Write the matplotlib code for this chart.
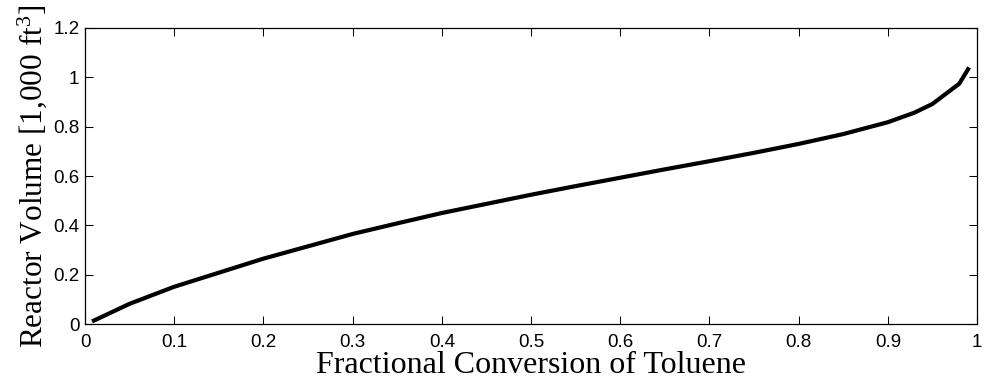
import matplotlib
matplotlib.use("Agg")
import matplotlib.pyplot as plt

# conversion vs. reactor volume (1,000 ft^3)
conversion = [0.01, 0.05, 0.1, 0.15, 0.2, 0.25, 0.3, 0.35, 0.4, 0.45, 0.5,
              0.55, 0.6, 0.65, 0.7, 0.75, 0.8, 0.85, 0.9, 0.93, 0.95, 0.98, 0.99]
volume = [0.014, 0.082, 0.151, 0.208, 0.265, 0.315, 0.365, 0.408, 0.45, 0.487, 0.524,
          0.559, 0.593, 0.627, 0.66, 0.694, 0.73, 0.77, 0.818, 0.857, 0.892, 0.974, 1.033]

xticks = [0, 0.1, 0.2, 0.3, 0.4, 0.5, 0.6, 0.7, 0.8, 0.9, 1]
yticks = [0, 0.2, 0.4, 0.6, 0.8, 1, 1.2]
xtick_labels = ["0", "0.1", "0.2", "0.3", "0.4", "0.5", "0.6", "0.7", "0.8", "0.9", "1"]
ytick_labels = ["0", "0.2", "0.4", "0.6", "0.8", "1", "1.2"]

plt.rcParams["mathtext.fontset"] = "custom"
plt.rcParams["mathtext.rm"] = "Liberation Serif"
plt.rcParams["mathtext.it"] = "Liberation Serif"

fig = plt.figure(figsize=(9.84, 3.85), dpi=100)
ax = fig.add_axes([0.0864, 0.1584, 0.9065, 0.7689])

ax.plot(conversion, volume, "k-", linewidth=3.0)

ax.set_xlim(0, 1)
ax.set_ylim(0, 1.2)
ax.set_xticks(xticks)
ax.set_xticklabels(xtick_labels)
ax.set_yticks(yticks)
ax.set_yticklabels(ytick_labels)
ax.tick_params(direction="in", top=True, right=True, length=6, width=0.75,
               labelsize=13.5)
ax.tick_params(axis="x", pad=7)
ax.tick_params(axis="y", pad=4)
for lab in ax.get_xticklabels() + ax.get_yticklabels():
    lab.set_family("Liberation Sans")
for sp in ax.spines.values():
    sp.set_linewidth(0.9)

ax.set_xlabel("Fractional Conversion of Toluene", family="Liberation Serif",
              fontsize=23, labelpad=0)
ax.set_ylabel("Reactor Volume [1,000 ft$^3$]", family="Liberation Serif",
              fontsize=22.5, labelpad=3)

fig.savefig("out.png", dpi=100)
